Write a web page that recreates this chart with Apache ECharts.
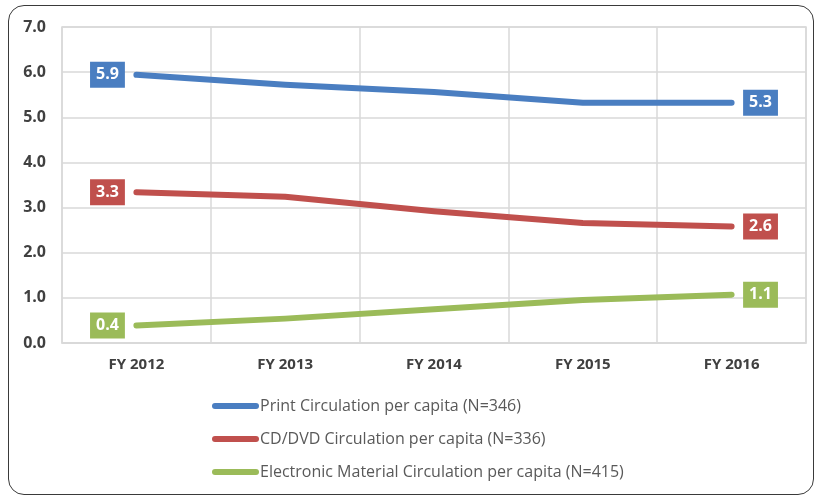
<!DOCTYPE html>
<html>
<head>
<meta charset="utf-8">
<script src="https://cdn.jsdelivr.net/npm/echarts@6/dist/echarts.min.js"></script>
<style>
html,body{margin:0;padding:0;background:#fff;}
#wrap{position:relative;width:820px;height:499px;overflow:hidden;}
#chart{position:absolute;left:0;top:0;width:820px;height:499px;}
#frame{position:absolute;left:8px;top:5px;width:806px;height:490px;border:1.5px solid #3a3a3a;border-radius:16px;box-sizing:border-box;pointer-events:none;}
</style>
</head>
<body>
<div id="wrap"><div id="chart"></div><div id="frame"></div></div>
<script>
const categories = ['FY 2012', 'FY 2013', 'FY 2014', 'FY 2015', 'FY 2016'];
const printValues = [5.94, 5.72, 5.56, 5.32, 5.32];
const cdValues = [3.34, 3.24, 2.92, 2.66, 2.58];
const elecValues = [0.39, 0.54, 0.75, 0.95, 1.07];
const seriesNames = [
  'Print Circulation per capita (N=346)',
  'CD/DVD Circulation per capita (N=336)',
  'Electronic Material Circulation per capita (N=415)'
];
const colors = ['#4a7ec1', '#c0504d', '#9bbb59'];
const yTicks = [0, 1, 2, 3, 4, 5, 6, 7];

function buildData(vals, color) {
  return vals.map((v, i) => {
    const item = { value: v };
    if (i === 0 || i === vals.length - 1) {
      item.label = {
        show: true,
        position: i === 0 ? 'left' : 'right',
        distance: 11,
        formatter: p => p.value.toFixed(1),
        color: '#fff',
        fontWeight: 'bold',
        fontSize: 16,
        fontFamily: 'Open Sans',
        backgroundColor: color,
        padding: [6, 6, 4, 6]
      };
    }
    return item;
  });
}

const allVals = [printValues, cdValues, elecValues];
const chart = echarts.init(document.getElementById('chart'), null, { renderer: 'canvas' });
chart.setOption({
  animation: false,
  color: colors,
  grid: { left: 62, right: 14, top: 27, bottom: 156, show: true, borderColor: '#d9d9d9', borderWidth: 1.5 },
  xAxis: {
    type: 'category',
    data: categories,
    boundaryGap: true,
    axisLine: { lineStyle: { color: '#d9d9d9', width: 1.5 } },
    axisTick: { show: false },
    splitLine: { show: true, lineStyle: { color: '#d9d9d9', width: 1.5 } },
    axisLabel: { color: '#404040', fontWeight: 'bold', fontSize: 15, fontFamily: 'Open Sans', margin: 14 }
  },
  yAxis: {
    type: 'value',
    min: yTicks[0],
    max: yTicks[yTicks.length - 1],
    interval: 1,
    axisLine: { show: false },
    axisTick: { show: false },
    splitLine: { lineStyle: { color: '#d9d9d9', width: 1.5 } },
    axisLabel: { color: '#404040', fontWeight: 'bold', fontSize: 16, fontFamily: 'Open Sans', margin: 16, formatter: v => v.toFixed(1) }
  },
  legend: {
    orient: 'vertical',
    left: 207,
    top: 393,
    itemGap: 17,
    itemWidth: 47,
    itemHeight: 6,
    icon: 'path://M3,0 L44,0 A3,3 0 0 1 44,6 L3,6 A3,3 0 0 1 3,0 Z',
    textStyle: { color: '#595959', fontSize: 16, fontFamily: 'Open Sans', padding: [0, 0, 0, -4] },
    data: seriesNames
  },
  series: seriesNames.map((name, k) => ({
    name: name,
    type: 'line',
    data: buildData(allVals[k], colors[k]),
    symbol: 'circle',
    symbolSize: 1,
    showSymbol: true,
    lineStyle: { width: 6, color: colors[k], cap: 'round', join: 'round' },
    itemStyle: { color: colors[k] }
  }))
});
</script>
</body>
</html>
